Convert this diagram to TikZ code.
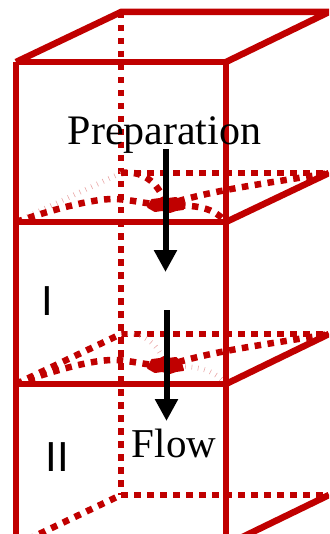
\documentclass[tikz,border=0pt]{standalone}
\usepackage{fontspec}
\setmainfont{Liberation Serif}
\newfontfamily\labelfont{Liberation Sans}
\usetikzlibrary{arrows.meta}
\definecolor{cellred}{RGB}{192,0,0}
\begin{document}
\begin{tikzpicture}[
  x=1pt, y=-1pt,
  >={Triangle[length=22pt,width=22pt]},
  solidedge/.style={draw=cellred, line width=6.5pt},
  dotedge/.style={draw=cellred, line width=6.5pt, dash pattern=on 6.5pt off 6.5pt},
  faintedge/.style={draw=cellred!35, line width=5pt, dash pattern=on 0.6pt off 5.8pt},
  blob/.style={fill=cellred, draw=cellred, line width=2pt, line join=round},
  flow/.style={->, line width=6pt, black},
  word/.style={font=\fontsize{42}{42}\selectfont, anchor=base, inner sep=0pt},
  cell/.style={font=\labelfont\fontsize{42}{42}\selectfont, anchor=base, inner sep=0pt},
]
\useasboundingbox (0,0) rectangle (329,534);

% === Corners ===
\coordinate (ftl) at (16,62);
\coordinate (ftr) at (226,62);
\coordinate (btl) at (121,12);
\coordinate (btr) at (329,12);
\coordinate (fal) at (16,222);
\coordinate (far) at (226,222);
\coordinate (bal) at (121,173);
\coordinate (bar) at (329,173);
\coordinate (fbl) at (16,384);
\coordinate (fbr) at (226,384);
\coordinate (bbl) at (121,334);
\coordinate (bbr) at (329,334);
\coordinate (fcl) at (16,545);
\coordinate (fcr) at (226,545);
\coordinate (bcl) at (121,495);
\coordinate (bcr) at (329,495);
\coordinate (mida) at (166,205);
\coordinate (midb) at (166,366);

\begin{scope}
\clip (0,0) rectangle (329,534);

% === Back edges ===
\draw[dotedge] (btl) -- (bcl);
\draw[dotedge] (bal) -- (bar);
\draw[dotedge] (bbl) -- (bbr);
\draw[dotedge] (bcl) -- (bcr);
\draw[dotedge] (fcl) -- (bcl);
\draw[dotedge] (fbl) -- (bbl);
\draw[faintedge] (fal) -- (bal);

% === Curved surfaces ===
\draw[dotedge] (fal) .. controls (60,207) and (95,199) .. (113,199) .. controls (130,199) and (150,205) .. (mida);
\draw[dotedge] (mida) .. controls (210,190) and (270,183) .. (bar);
\draw[dotedge] (fbl) .. controls (60,368) and (95,360) .. (113,360) .. controls (130,360) and (150,366) .. (midb);
\draw[dotedge] (midb) .. controls (210,351) and (270,344) .. (bbr);
\draw[dotedge] (bal) .. controls (140,170) and (158,180) .. (mida);
\draw[dotedge] (mida) .. controls (190,206) and (210,204) .. (far);
\draw[faintedge] (bbl) .. controls (140,331) and (158,341) .. (midb);
\draw[faintedge] (midb) .. controls (190,367) and (210,365) .. (fbr);

% === Dense spots ===
\fill[blob] (148,207) -- (152,200) -- (160,199) -- (164,197) -- (168,199) -- (176,198) -- (181,202)
  -- (183,209) -- (176,210) -- (170,212) -- (162,210) -- (155,211) -- cycle;
\fill[blob] (148,368) -- (152,360) -- (160,359) -- (164,357) -- (168,359) -- (176,358) -- (181,363)
  -- (183,370) -- (176,371) -- (170,373) -- (162,371) -- (155,372) -- cycle;

% === Front edges ===
\draw[solidedge] (ftl) -- (fcl);
\draw[solidedge] (ftr) -- (fcr);
\draw[solidedge] (ftl) -- (ftr);
\draw[solidedge] (fal) -- (far);
\draw[solidedge] (fbl) -- (fbr);
\draw[solidedge] (ftl) -- (btl) -- (btr) -- (ftr);
\draw[solidedge] (far) -- (bar);
\draw[solidedge] (fbr) -- (bbr);
\draw[solidedge] (fcr) -- (bcr);
\end{scope}

% === Labels ===
\node[word] (prep) at (164.5,145) {Preparation};
\node[word, font=\fontsize{41}{41}\selectfont] (fl) at (174,457) {Flow};
\node[cell] (one) at (47.5,315) {I};
\node[cell] (two) at (57,471) {II};

% === Arrows ===
\coordinate (aup) at (165.5,149);
\coordinate (adn) at (165.5,272);
\coordinate (bup) at (166.5,310);
\coordinate (bdn) at (166.5,421);
\draw[flow] (aup) -- (adn);
\draw[flow] (bup) -- (bdn);

\end{tikzpicture}
\end{document}
